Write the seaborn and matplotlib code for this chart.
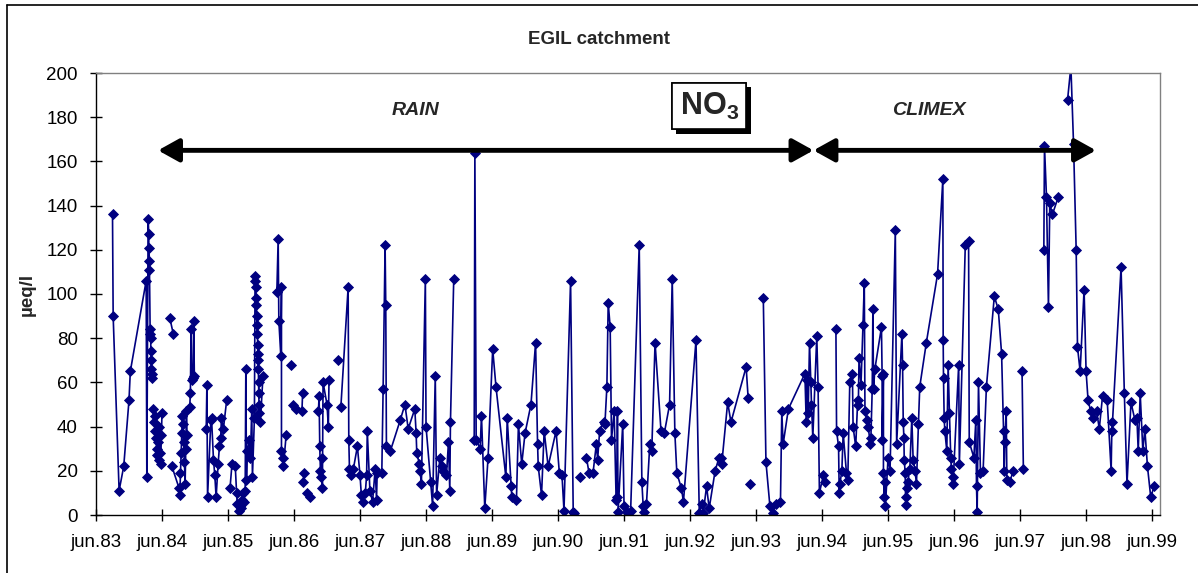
import numpy as np
import pandas as pd
import matplotlib
matplotlib.use("Agg")
import matplotlib.pyplot as plt
import matplotlib.patheffects as pe
from matplotlib.lines import Line2D
import seaborn as sns

nan = np.nan

# Sampling time (decimal year, "jun.83" = 83.5) and NO3 (µeq/l); nan = gap in the record
t_8387 = [83.75, 83.76, 83.85, 83.92, 84.00, 84.02, 84.26, 84.27, 84.29, 84.30, 84.30, 84.31, 84.31,
          84.32, 84.32, 84.33, 84.33, 84.34, 84.34, 84.35, 84.35, nan,
          84.37, 84.38, 84.39, 84.40, 84.41, 84.42, 84.43, 84.44, 84.45, 84.46, 84.47, 84.48, 84.49, 84.50, nan,
          84.62, 84.67, nan,
          84.65, 84.76, 84.77, 84.78, 84.79, 84.80, 84.81, 84.82, 84.83, 84.84, 84.85, 84.86, 84.87, 84.88, nan,
          84.92, 84.93, 84.94, 84.95, 84.97, 84.98, 84.99, nan,
          85.17, 85.18, 85.19, 85.24, 85.25, 85.28, 85.30, 85.32, 85.35, 85.37, 85.39, 85.40, 85.43, 85.48, nan,
          85.53, 85.56, 85.61, 85.63, 85.64, 85.66, 85.68, 85.69, 85.71, 85.73, 85.74, 85.76, 85.77, 85.78,
          85.79, 85.82, 85.84, 85.86, 85.87, 85.90,
          85.91, 85.915, 85.92, 85.925, 85.93, 85.935, 85.94, 85.945, 85.95, 85.953, 85.956, 85.96, 85.963,
          85.966, 85.97, 85.975, 85.99, 86.03, nan,
          86.24, 86.26, 86.27, 86.30, 86.31, 86.31, 86.33, 86.34, 86.38, nan,
          86.45, nan, 86.48, 86.53, nan, 86.62, 86.63, nan, 86.64, 86.65, nan, 86.70, 86.74, nan,
          86.87, 86.88, 86.89, 86.90, 86.91, 86.92, 86.93, 86.94, 87.00, 87.02, 87.03, nan,
          87.17, nan,
          87.21, 87.32, 87.33, 87.34, 87.36, 87.40, 87.46, 87.50, 87.52, 87.54, 87.58, 87.60, 87.61, 87.65,
          87.69, 87.73, 87.75, 87.76, 87.83,
          87.85, 87.88, 87.89, 87.90, 87.96]
no3_8387 = [136, 90, 11, 22, 52, 65, 106, 17, 134, 127, 121, 115, 111,
            84, 82, 80, 74, 70, 66, 64, 62, nan,
            48, 42, 45, 38, 35, 30, 27, 33, 25, 40, 28, 23, 36, 46, nan,
            89, 82, nan,
            22, 12, 9, 19, 28, 37, 45, 41, 33, 24, 14, 30, 47, 36, nan,
            49, 55, 84, 61, 62, 88, 63, nan,
            39, 59, 8, 43, 44, 25, 18, 8, 23, 31, 35, 44, 39, 52, nan,
            12, 23, 22, 10, 5, 2, 4, 3, 7, 10, 6, 11, 66, 16,
            29, 34, 26, 48, 17, 44,
            108, 106, 103, 98, 95, 90, 86, 82, 77, 73, 70, 66, 60,
            55, 50, 46, 42, 63, nan,
            101, 125, 88, 72, 103, 29, 26, 22, 36, nan,
            68, nan, 50, 48, nan, 47, 55, nan, 15, 19, nan, 10, 8, nan,
            47, 54, 31, 20, 17, 26, 12, 60, 50, 40, 61, nan,
            70, nan,
            49, 103, 34, 21, 18, 21, 31, 18, 9, 6, 10, 18, 38, 11,
            6, 21, 7, 19, 19,
            57, 122, 95, 31, 29]

t_8893 = [88.11, 88.18, 88.23, 88.33, 88.35, 88.36, 88.40, 88.41, 88.43, 88.49, 88.50, 88.57, 88.60,
          88.64, 88.66, 88.71, 88.74, 88.76, 88.81, 88.84, 88.86, 88.87, 88.92, nan,
          89.23, 89.24, 89.26, 89.32, 89.34, 89.39, 89.44, 89.51, 89.56, 89.71, 89.73, 89.79, 89.80, 89.87,
          89.90, 89.95, 90.00, 90.09, 90.16, 90.19, 90.20, 90.25, 90.29, 90.35, 90.47, 90.52, 90.56, 90.59,
          90.69, 90.73, 90.74, nan,
          90.83, nan,
          90.93, 90.97, 91.03, 91.08, 91.10, 91.13, 91.19, 91.21, 91.24, 91.26, 91.29, 91.31, 91.35, 91.38,
          91.39, 91.40, 91.41, 91.48, 91.50, 91.55, 91.60, 91.73, 91.77, 91.79, 91.80, 91.84, 91.89, 91.92,
          91.97, 92.06, 92.11, 92.19, 92.23, 92.27, 92.30, 92.37, 92.40, 92.59, 92.64, 92.68, 92.70, 92.75,
          92.79, 92.88, 92.94, 92.97, 92.98, 93.07, 93.12, 93.35, 93.38, nan,
          93.41, nan]
no3_8893 = [43, 50, 39, 48, 37, 28, 23, 20, 14, 107, 40, 15, 4,
            63, 9, 26, 22, 20, 18, 33, 11, 42, 107, nan,
            34, 164, 34, 30, 45, 3, 26, 75, 58, 17, 44, 13, 8, 7,
            41, 23, 37, 50, 78, 32, 22, 9, 38, 22, 38, 19, 18, 2,
            106, 1.5, 1, nan,
            17, nan,
            26, 19, 19, 32, 25, 38, 42, 41, 58, 96, 85, 34, 47, 7,
            8, 47, 1.5, 41, 4, 1.5, 2, 122, 15, 4, 1.5, 5, 32, 29,
            78, 38, 37, 50, 107, 37, 19, 12, 6, 79, 1, 5, 1, 13,
            3, 20, 26, 26, 23, 51, 42, 67, 53, nan,
            14, nan]

t_9399 = [93.61, 93.65, 93.71, 93.76, 93.80, 93.87, 93.89, 93.91, 93.99,
          94.24, 94.26, 94.27, 94.29, 94.31, 94.33, 94.34, 94.36, 94.42, 94.44, 94.46,
          94.52, 94.55, nan,
          94.71, 94.72, 94.75, 94.76, 94.77, 94.80, 94.82, 94.87, 94.89, 94.92,
          94.96, 94.97, 95.01, 95.04, 95.05, 95.06, 95.09, 95.12, 95.14, 95.15,
          95.18, 95.20, 95.23, 95.24, 95.26, 95.27, 95.28, 95.30, 95.40, 95.41,
          95.41, 95.43, 95.43, 95.44, 95.45, 95.46, 95.50, 95.53, 95.61, 95.63,
          95.71, 95.72, 95.73, 95.74, 95.745, 95.76, 95.765, 95.77, 95.78, 95.80,
          95.83, 95.86, 95.88, 95.91, 95.93, 95.96, 95.98, 96.08, 96.25, 96.33,
          96.335, 96.34, 96.35, 96.36, 96.39, 96.41, 96.43, 96.45, 96.46, 96.48,
          96.49, 96.57, 96.58, 96.67, 96.72, 96.73, 96.80, 96.83, 96.84, 96.85,
          96.87, 96.90, 96.94, 96.99, 97.11, 97.17, 97.22, 97.25, 97.26, 97.27,
          97.29, 97.30, 97.34, 97.40, nan,
          97.53, 97.55, nan,
          97.86, 97.87, 97.90, 97.93, 97.95, 97.99, 98.08, nan,
          98.22, 98.27, 98.31, 98.35, 98.37, 98.41, 98.47, 98.50, 98.53, 98.57,
          98.61, 98.66, 98.70, 98.75, 98.82, 98.88, 98.89, 98.90, 99.03, 99.08,
          99.12, 99.18, 99.24, 99.27, 99.29, 99.32, 99.36, 99.39, 99.43, 99.48, 99.53]
no3_9399 = [98, 24, 4, 1, 5, 6, 47, 32, 48,
            64, 42, 61, 46, 78, 60, 50, 35, 81, 58, 10,
            18, 15, nan,
            84, 38, 31, 10, 14, 20, 37, 19, 16, 60,
            64, 40, 31, 52, 50, 71, 59, 86, 105, 47,
            43, 40, 32, 35, 57, 93, 57, 66, 85, 63,
            34, 64, 19, 8, 15, 4, 26, 20, 129, 32,
            82, 68, 42, 35, 25, 19, 8, 4.5, 12, 15,
            21, 44, 25, 20, 14, 41, 58, 78, 109, 152,
            79, 62, 44, 38, 29, 68, 46, 26, 21, 14,
            17, 68, 23, 122, 124, 33, 26, 43, 13, 1.5,
            60, 19, 20, 58, 99, 93, 73, 38, 20, 33,
            47, 16, 15, 20, nan,
            65, 21, nan,
            120, 167, 144, 94, 141, 136, 144, nan,
            188, 203, 168, 120, 76, 65, 102, 65, 52, 47,
            44, 47, 39, 54, 52, 20, 38, 42, 112, 55,
            14, 51, 43, 44, 29, 55, 29, 39, 22, 8, 13]

tick_years = list(range(83, 100))
tick_labels = [f"jun.{y}" for y in tick_years]

# periods shown with arrows (start, end, label)
rain_period = (84.44, 94.37, "RAIN")
climex_period = (94.37, 98.65, "CLIMEX")

# build one frame, gaps split the line into segments
t = np.array(t_8387 + t_8893 + t_9399, dtype=float)
v = np.array(no3_8387 + no3_8893 + no3_9399, dtype=float)
df = pd.DataFrame({"t": t, "no3": v, "seg": np.cumsum(np.isnan(v))}).dropna()

sns.set_style("white")
plt.rcParams["font.family"] = ["Liberation Sans", "DejaVu Sans"]
plt.rcParams["mathtext.fontset"] = "custom"
plt.rcParams["mathtext.rm"] = "Liberation Sans"
plt.rcParams["mathtext.bf"] = "Liberation Sans:bold"

W, H = 1198, 573
fig = plt.figure(figsize=(W / 100, H / 100), dpi=100)
ax = fig.add_axes([96 / W, 1 - 515 / H, (1160 - 96) / W, (515 - 73) / H])

navy = "#000080"
sns.lineplot(data=df, x="t", y="no3", units="seg", estimator=None, sort=False,
             color=navy, linewidth=1.2, marker="D", markersize=4.8,
             markeredgecolor=navy, markeredgewidth=0.6, legend=False, ax=ax)

ax.set_xlim(83.5, 99.62)
ax.set_ylim(0, 200)
ax.set_xticks([y + 0.5 for y in tick_years])
ax.set_xticklabels(tick_labels)
ax.set_yticks(range(0, 201, 20))
ax.tick_params(bottom=True, left=True, direction="inout", length=8, width=1,
               colors="black", labelsize=13.5)
ax.tick_params(axis="x", pad=10)
ax.tick_params(axis="y", pad=9)
ax.set_xlabel("")
ax.set_ylabel("µeq/l", fontsize=13.5, fontweight="bold")
ax.yaxis.set_label_coords((36 - 96) / 1064, 0.5)

for s in ["top", "right"]:
    ax.spines[s].set_color("#808080")
    ax.spines[s].set_linewidth(1)
for s in ["left", "bottom"]:
    ax.spines[s].set_color("black")
    ax.spines[s].set_linewidth(1)

# period arrows
for x0, x1, name in [rain_period, climex_period]:
    ax.annotate("", xy=(x0, 165), xytext=(x1, 165),
                arrowprops=dict(arrowstyle="<|-|>,head_length=0.45,head_width=0.25",
                                color="black", lw=3.5, shrinkA=0, shrinkB=0,
                                mutation_scale=28))
ax.text(88.34, 183, rain_period[2], ha="center", va="center", fontsize=14,
        fontweight="bold", style="italic")
ax.text(96.12, 183, climex_period[2], ha="center", va="center", fontsize=14,
        fontweight="bold", style="italic")

# NO3 box with shadow
lab = ax.text(92.79, 185, r"NO$_\mathbf{3}$", ha="center", va="center", fontsize=22,
              fontweight="bold",
              bbox=dict(boxstyle="square,pad=0.25", fc="white", ec="black", lw=1.2))
lab.get_bbox_patch().set_path_effects([
    pe.withSimplePatchShadow(offset=(3, -3), shadow_rgbFace="black", alpha=1),
    pe.Normal()])

fig.text(599 / W, 1 - 40 / H, "EGIL catchment", ha="center", va="center",
         fontsize=13.5, fontweight="bold")

# outer frame of the chart
fig.add_artist(Line2D([7 / W, 7 / W], [0, 1 - 4.5 / H], color="black", lw=1.2,
                      transform=fig.transFigure))
fig.add_artist(Line2D([7 / W, 1], [1 - 4.5 / H, 1 - 4.5 / H], color="black", lw=1.2,
                      transform=fig.transFigure))

fig.savefig("out.png", dpi=100)
